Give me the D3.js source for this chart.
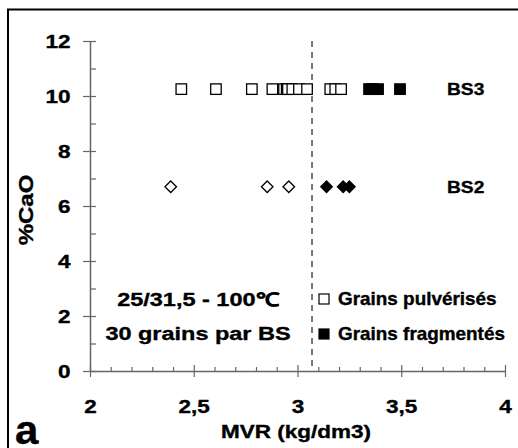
<!DOCTYPE html>
<html><head><meta charset="utf-8">
<script src="https://cdn.jsdelivr.net/npm/d3@7"></script>
<style>
html,body{margin:0;padding:0;background:#fff;}
text{font-family:"Liberation Sans",Arial,sans-serif;font-weight:bold;fill:#000;stroke:#000;stroke-width:0.35px;}
</style></head>
<body>
<svg id="chart" width="518" height="448"></svg>
<script>
// ---- data ----
const bs3Pulverises = [2.44, 2.607, 2.78, 2.879, 2.935, 2.948, 2.954, 2.975, 3.007, 3.046, 3.158, 3.182, 3.21];
const bs3Fragmentes = [3.345, 3.36, 3.388, 3.494];
const bs2Pulverises = [2.389, 2.854, 2.958];
const bs2Fragmentes = [3.14, 3.22, 3.25];
const bs3CaO = 10.25;
const bs2CaO = 6.7;
const seuilMVR = 3.07;
const xTickValues = [2, 2.5, 3, 3.5, 4];
const xTickLabels = ["2", "2,5", "3", "3,5", "4"];
const yTickValues = [0, 2, 4, 6, 8, 10, 12];
const seriesLabels = ["BS3", "BS2"];
const legendLabels = ["Grains pulvérisés", "Grains fragmentés"];
const infoLines = ["25/31,5 - 100\u2103", "30 grains par BS"];

const svg = d3.select("#chart");
const x = d3.scaleLinear().domain([2, 4]).range([90, 505]);
const y = d3.scaleLinear().domain([0, 12]).range([371, 41]);

function label(px, py, str, size, sx, anchor, rot) {
  const g = svg.append("g").attr("transform",
    `translate(${px},${py})` + (rot ? ` rotate(${rot})` : "") + ` scale(${sx},1)`);
  g.append("text").attr("x", 0).attr("y", 0).attr("text-anchor", anchor || "start")
    .style("font-size", size + "px").text(str);
  return g;
}

// outer frame
svg.append("rect").attr("x", 8).attr("y", 9.5).attr("width", 520).attr("height", 450)
  .attr("fill", "none").attr("stroke", "#000").attr("stroke-width", 2);

const axisCol = "#666";
// x axis
const gx = svg.append("g").attr("transform", `translate(0,${y(0)})`);
gx.call(d3.axisBottom(x).tickValues(d3.range(2, 4.001, 0.1)).tickSize(0).tickFormat(""));
gx.select(".domain").attr("stroke", axisCol).attr("stroke-width", 1.5);
gx.selectAll(".tick line").remove();
gx.selectAll(".tick").append("line").attr("stroke", axisCol).attr("stroke-width", 1.2)
  .attr("y1", d => (Math.abs(d * 2 - Math.round(d * 2)) < 1e-6) ? 6 : 0)
  .attr("y2", d => (Math.abs(d * 2 - Math.round(d * 2)) < 1e-6) ? -6 : -4);
const gxl = svg.append("g").attr("transform", `translate(0,${y(0)})`);
gxl.call(d3.axisBottom(x).tickValues(xTickValues).tickSize(0).tickPadding(0)
  .tickFormat((d, i) => xTickLabels[i]));
gxl.select(".domain").remove();
gxl.selectAll("text").attr("dy", 0).attr("y", 0)
  .attr("transform", "translate(0,42) scale(1.25,1)")
  .style("font-size", "18px").style("font-family", "Liberation Sans, Arial, sans-serif")
  .style("font-weight", "bold");

// y axis
const gy = svg.append("g").attr("transform", `translate(${x(2)},0)`);
gy.call(d3.axisLeft(y).tickValues(d3.range(0, 12.001, 1)).tickSize(0).tickFormat(""));
gy.select(".domain").attr("stroke", axisCol).attr("stroke-width", 1.5);
gy.selectAll(".tick line").remove();
gy.selectAll(".tick").append("line").attr("stroke", axisCol).attr("stroke-width", 1.2)
  .attr("x1", d => d % 2 === 0 ? -7 : 0).attr("x2", 6);
const gyl = svg.append("g").attr("transform", `translate(${x(2)},0)`);
gyl.call(d3.axisLeft(y).tickValues(yTickValues).tickSize(0).tickPadding(0));
gyl.select(".domain").remove();
gyl.selectAll("text").attr("x", 0).attr("dy", "0.36em")
  .attr("transform", "translate(-19.5,0) scale(1.25,1)")
  .style("font-size", "18px").style("font-family", "Liberation Sans, Arial, sans-serif")
  .style("font-weight", "bold");

// dashed threshold line
svg.append("line").attr("x1", x(seuilMVR)).attr("x2", x(seuilMVR))
  .attr("y1", y(12)).attr("y2", y(0))
  .attr("stroke", "#777").attr("stroke-width", 2).attr("stroke-dasharray", "6,5");

// markers
const sq = 10.5;
function squares(data, yv, filled) {
  svg.append("g").selectAll("rect").data(data).join("rect")
    .attr("x", d => x(d) - sq / 2).attr("y", y(yv) - sq / 2)
    .attr("width", sq).attr("height", sq)
    .attr("fill", filled ? "#000" : "#fff").attr("stroke", "#000").attr("stroke-width", 1.3);
}
const diamond = d3.symbol().type(d3.symbolDiamond2).size(85);
function diamonds(data, yv, filled) {
  svg.append("g").selectAll("path").data(data).join("path")
    .attr("d", diamond).attr("transform", d => `translate(${x(d)},${y(yv)})`)
    .attr("fill", filled ? "#000" : "#fff").attr("stroke", "#000").attr("stroke-width", 1.3);
}
squares(bs3Pulverises, bs3CaO, false);
squares(bs3Fragmentes, bs3CaO, true);
diamonds(bs2Pulverises, bs2CaO, false);
diamonds(bs2Fragmentes, bs2CaO, true);

// series labels
label(447, y(bs3CaO) + 6, seriesLabels[0], 17, 1.13);
label(447, y(bs2CaO) + 6, seriesLabels[1], 17, 1.13);

// info text
infoLines.forEach((t, i) => label(198, 306 + i * 34, t, 18.5, 1.27, "middle"));

// legend
legendLabels.forEach((t, i) => {
  const yy = 299 + i * 35;
  svg.append("rect").attr("x", 319).attr("y", yy - 5).attr("width", 10).attr("height", 10)
    .attr("fill", i === 0 ? "#fff" : "#000").attr("stroke", "#000").attr("stroke-width", 1.2);
  label(338, yy + 6, t, 17.5, 1.08);
});

// axis titles
label(296, 438, "MVR (kg/dm3)", 18, 1.25, "middle");
label(33, 210, "%CaO", 20, 1.2, "middle", -90);

// panel letter
label(15, 444, "a", 40, 1.05);
</script>
</body></html>
